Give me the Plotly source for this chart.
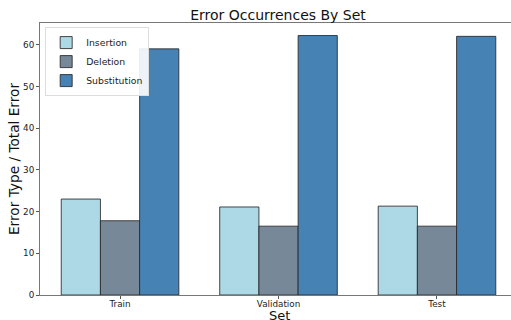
import plotly.graph_objects as go

categories = ["Train", "Validation", "Test"]
insertion = [23.0, 21.1, 21.3]
deletion = [17.8, 16.5, 16.5]
substitution = [59.0, 62.2, 62.0]
series_names = ["Insertion", "Deletion", "Substitution"]
colors = ["#ADD8E6", "#778899", "#4682B4"]

fig = go.Figure()
for name, vals, col in zip(series_names, [insertion, deletion, substitution], colors):
    fig.add_trace(go.Bar(
        x=categories, y=vals, name=name,
        marker=dict(color=col, line=dict(color="rgba(40,40,40,0.85)", width=1)),
    ))

font_family = "DejaVu Sans"
fig.update_layout(
    width=511, height=320,
    margin=dict(l=40, r=0, t=23, b=25, autoexpand=False),
    paper_bgcolor="white", plot_bgcolor="white",
    barmode="group", bargap=0.258, bargroupgap=0,
    font=dict(family=font_family, color="#222"),
    title=dict(text="Error Occurrences By Set", x=278 / 511, xanchor="center",
               y=1 - 15.5 / 320, yanchor="middle", yref="container",
               font=dict(size=14, color="#111", family=font_family)),
    showlegend=True,
    legend=dict(x=0.011, y=0.985, xanchor="left", yanchor="top",
                bordercolor="#dddddd", borderwidth=1, bgcolor="rgba(255,255,255,0.9)",
                font=dict(size=9.3, color="#222"), tracegroupgap=0,
                itemwidth=30),
)
fig.add_annotation(text="Set", xref="paper", yref="paper", x=0.508, y=-0.075,
                   xanchor="center", yanchor="middle", showarrow=False,
                   font=dict(size=13, color="#111", family=font_family))
fig.update_xaxes(
    range=[-0.505, 2.467], showline=True, mirror=True, linecolor="#777", linewidth=1,
    ticks="outside", ticklen=3, tickcolor="#555", showgrid=False, automargin=False,
    tickfont=dict(size=8.8, color="#222"), ticklabelstandoff=-3,
)
fig.update_yaxes(
    range=[0, 65.2], showline=True, linecolor="#777", linewidth=1,
    ticks="outside", ticklen=3, tickcolor="#555", showgrid=False, automargin=False,
    tickvals=[0, 10, 20, 30, 40, 50, 60], zeroline=False,
    tickfont=dict(size=8.8, color="#222"),
    title=dict(text="Error Type / Total Error", font=dict(size=13.7, color="#111"), standoff=0),
)
fig.write_html("out.html", config={"displayModeBar": False},
               post_script="document.body.style.margin='0';document.body.style.overflow='hidden';")
